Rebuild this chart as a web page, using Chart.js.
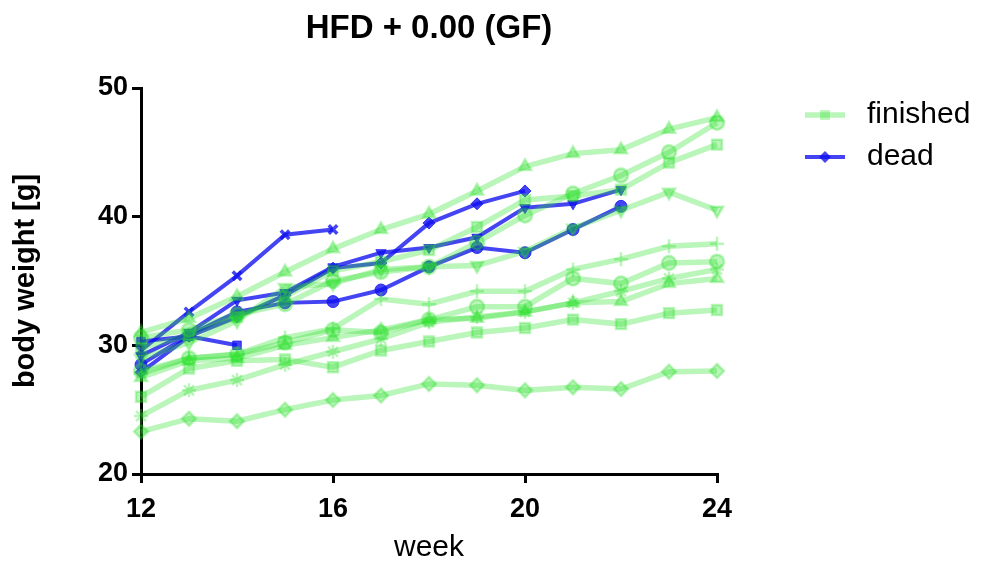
<!DOCTYPE html>
<html>
<head>
<meta charset="utf-8">
<script src="https://cdn.jsdelivr.net/npm/chart.js@4"></script>
<style>
html,body{margin:0;padding:0;background:#fff;}
#wrap{position:relative;width:983px;height:563px;}
</style>
</head>
<body>
<div id="wrap"><canvas id="c" width="983" height="563"></canvas></div>
<script>
// ---- data ----
const weeks = [12, 13, 14, 15, 16, 17, 18, 19, 20, 21, 22, 23, 24];
const xTicks = [12, 16, 20, 24];
const yTicks = [20, 30, 40, 50];
const titleText = "HFD + 0.00 (GF)";
const xTitle = "week";
const yTitle = "body weight [g]";
const groupLabels = ["finished", "dead"];

// finished mice (green)
const finTriUpTop  = [31.0, 32.1, 33.8, 35.7, 37.5, 39.0, 40.2, 42.0, 43.9, 44.9, 45.2, 46.8, 47.7];
const finCircleTop = [30.6, 31.2, 32.4, 33.2, 35.0, 35.7, 36.1, 38.0, 40.1, 41.8, 43.2, 45.0, 47.3];
const finSquareTop = [29.8, 30.8, 32.2, 33.8, 35.8, 36.5, 37.4, 39.2, 41.3, 41.6, 42.1, 44.2, 45.6];
const finTriDown   = [29.0, 30.2, 31.9, 34.5, 34.8, 35.9, 36.1, 36.2, 37.3, 39.1, 40.5, 41.9, 40.5];
const finPlus      = [27.8, 29.0, 29.3, 30.6, 31.3, 33.6, 33.2, 34.2, 34.2, 35.9, 36.7, 37.7, 37.9];
const finCircleMid = [28.0, 29.0, 29.3, 30.2, 31.2, 31.0, 32.0, 33.0, 33.0, 35.2, 34.8, 36.4, 36.5];
const finStar      = [24.5, 26.5, 27.3, 28.5, 29.5, 30.5, 31.8, 32.2, 32.6, 33.3, 34.2, 35.2, 35.9];
const finTriUpMid  = [27.5, 28.8, 29.0, 30.0, 30.6, 31.2, 32.0, 32.1, 32.6, 33.3, 33.4, 34.8, 35.2];
const finSquareLow = [26.0, 28.2, 28.8, 28.9, 28.3, 29.6, 30.3, 31.0, 31.35, 32.0, 31.65, 32.5, 32.75];
const finDiamond   = [23.3, 24.3, 24.1, 25.0, 25.75, 26.1, 27.0, 26.9, 26.5, 26.75, 26.6, 27.95, 28.0];

// dead mice (blue)
const deadCross    = [29.6, 32.6, 35.4, 38.6, 39.0];
const deadDiamond  = [27.9, 30.7, 32.2, 33.9, 36.0, 36.4, 39.5, 41.0, 42.0];
const deadTriDown  = [29.2, 31.0, 33.5, 34.1, 36.1, 37.2, 37.6, 38.4, 40.7, 41.0, 42.1];
const deadCircle   = [28.5, 30.8, 32.6, 33.3, 33.4, 34.3, 36.1, 37.6, 37.2, 39.0, 40.8];
const deadShort    = [30.3, 30.7, 30.0];

const FONT = '"Liberation Sans", Arial, Helvetica, sans-serif';
const GREEN = 'rgba(40,225,40,0.32)';
const BLUE = 'rgba(15,15,240,0.78)';

function pts(vals) {
  return vals.map((v, i) => ({ x: weeks[i], y: v }));
}

const finished = [
  [finTriUpTop, 'triangle', 0],
  [finCircleTop, 'circle', 0],
  [finSquareTop, 'rect', 0],
  [finTriDown, 'triangle', 180],
  [finPlus, 'cross', 0],
  [finCircleMid, 'circle', 0],
  [finStar, 'star', 0],
  [finTriUpMid, 'triangle', 0],
  [finSquareLow, 'rect', 0],
  [finDiamond, 'rectRot', 0]
];
const dead = [
  [deadCross, 'crossRot', 0],
  [deadDiamond, 'rectRot', 0],
  [deadTriDown, 'triangle', 180],
  [deadCircle, 'circle', 0],
  [deadShort, 'rect', 0]
];

const datasets = [];
finished.forEach(([vals, style, rot]) => {
  datasets.push({
    label: groupLabels[0], data: pts(vals),
    borderColor: GREEN, backgroundColor: GREEN,
    pointBorderColor: GREEN, pointBackgroundColor: GREEN,
    borderWidth: 5.5, pointStyle: style, rotation: rot,
    pointRadius: 7, pointBorderWidth: 2.5, clip: false
  });
});
dead.forEach(([vals, style, rot]) => {
  datasets.push({
    label: groupLabels[1], data: pts(vals),
    borderColor: BLUE, backgroundColor: BLUE,
    pointBorderColor: BLUE, pointBackgroundColor: BLUE,
    borderWidth: 4, pointStyle: style, rotation: rot,
    pointRadius: 6, pointBorderWidth: style === 'crossRot' ? 3.5 : 1, clip: false
  });
});

const decor = {
  id: 'decor',
  afterDraw(chart) {
    const ctx = chart.ctx;
    const a = chart.chartArea;
    ctx.save();
    ctx.fillStyle = '#000';
    ctx.textAlign = 'center';
    ctx.textBaseline = 'middle';
    ctx.font = 'bold 33px ' + FONT;
    ctx.fillText(titleText, (a.left + a.right) / 2, 29);
    ctx.font = '30px ' + FONT;
    ctx.fillText(xTitle, (a.left + a.right) / 2, 548);
    ctx.save();
    ctx.translate(26, (a.top + a.bottom) / 2);
    ctx.rotate(-Math.PI / 2);
    ctx.font = 'bold 29px ' + FONT;
    ctx.fillText(yTitle, 0, 0);
    ctx.restore();
    // legend
    const entries = [
      { text: groupLabels[0], color: GREEN, style: 'rect', y: 115, lw: 5.5, r: 7 },
      { text: groupLabels[1], color: BLUE, style: 'rectRot', y: 157, lw: 4, r: 6 }
    ];
    entries.forEach(e => {
      ctx.strokeStyle = e.color;
      ctx.lineWidth = e.lw;
      ctx.beginPath();
      ctx.moveTo(805, e.y);
      ctx.lineTo(845, e.y);
      ctx.stroke();
      ctx.fillStyle = e.color;
      Chart.helpers.drawPoint(ctx, { pointStyle: e.style, radius: e.r, borderWidth: 0, rotation: 0 }, 825, e.y);
      ctx.fillStyle = '#000';
      ctx.textAlign = 'left';
      ctx.font = '30px ' + FONT;
      ctx.fillText(e.text, 867, e.y);
    });
    ctx.restore();
  }
};

new Chart(document.getElementById('c'), {
  type: 'line',
  data: { datasets },
  options: {
    responsive: false,
    animation: false,
    devicePixelRatio: 1,
    layout: { padding: { top: 88, right: 266, left: 0, bottom: 0 } },
    plugins: { legend: { display: false }, title: { display: false }, tooltip: { enabled: false } },
    elements: { line: { tension: 0 } },
    scales: {
      x: {
        type: 'linear', min: 12, max: 24,
        afterFit(s) { s.height = 89; },
        afterBuildTicks(s) { s.ticks = xTicks.map(v => ({ value: v })); },
        border: { display: true, color: '#000', width: 3 },
        grid: { display: true, drawOnChartArea: false, drawTicks: true, tickLength: 9, color: '#000', lineWidth: 3 },
        ticks: { color: '#000', font: { family: FONT, size: 27, weight: 'bold' }, padding: 10, maxRotation: 0 }
      },
      y: {
        type: 'linear', min: 20, max: 50,
        afterFit(s) { s.width = 141; },
        afterBuildTicks(s) { s.ticks = yTicks.map(v => ({ value: v })); },
        border: { display: true, color: '#000', width: 3 },
        grid: { display: true, drawOnChartArea: false, drawTicks: true, tickLength: 9, color: '#000', lineWidth: 3 },
        ticks: { color: '#000', font: { family: FONT, size: 27, weight: 'bold' }, padding: 4 }
      }
    }
  },
  plugins: [decor]
});
</script>
</body>
</html>
